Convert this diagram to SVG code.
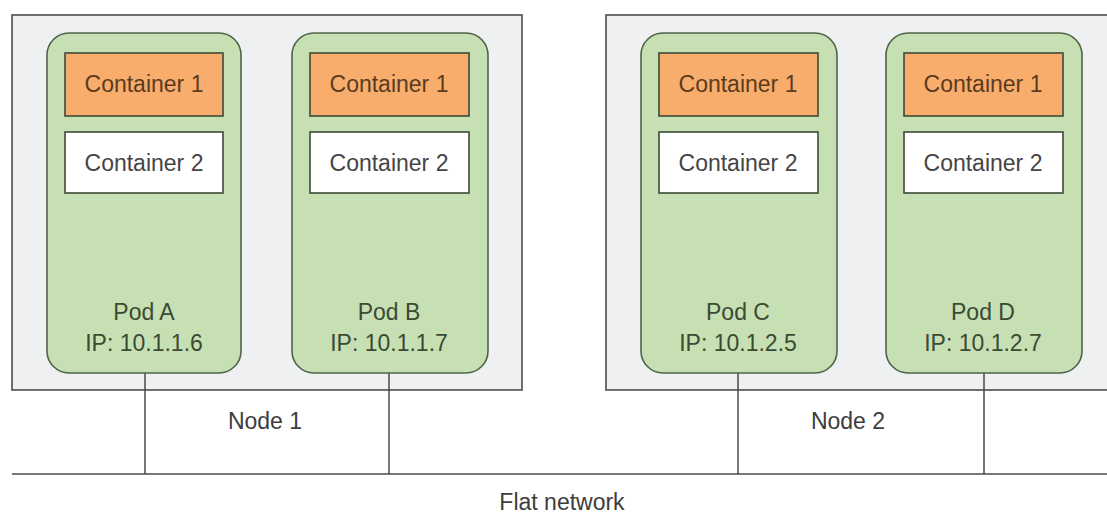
<svg xmlns="http://www.w3.org/2000/svg" width="1107" height="514" viewBox="0 0 1107 514">
  <style>
    .host { fill: #eef0f2; stroke: #4d4d4d; stroke-width: 1.6; }
    .pod { fill: #c6e0b4; stroke: #4f6349; stroke-width: 1.6; }
    .c1 { fill: #f9ad6d; stroke: #3d4a36; stroke-width: 1.6; }
    .c2 { fill: #ffffff; stroke: #3d4a36; stroke-width: 1.6; }
    .wire { stroke: #4a4a4a; stroke-width: 1.5; fill: none; }
    text { font-size: 23px; text-anchor: middle; }
    .t1 { fill: #5a3b20; }
    .t2 { fill: #454545; }
    .tp { fill: #3b4a33; }
    .tn { fill: #3d3d3d; }
  </style>
  <rect width="1107" height="514" fill="#ffffff"/>

  <g font-family="'Liberation Sans', Arial, Helvetica, sans-serif">
  <g id="node1">
    <rect class="host" x="12" y="15" width="510" height="375"/>
    <text class="tn" x="265" y="429">Node 1</text>
  </g>
  <g id="node2">
    <rect class="host" x="606" y="15" width="520" height="375"/>
    <text class="tn" x="848" y="429">Node 2</text>
  </g>

  <g id="connectors">
    <line class="wire" x1="12" y1="474" x2="1107" y2="474"/>
    <line class="wire" x1="145" y1="373" x2="145" y2="474"/>
    <line class="wire" x1="389" y1="373" x2="389" y2="474"/>
    <line class="wire" x1="738" y1="373" x2="738" y2="474"/>
    <line class="wire" x1="984" y1="373" x2="984" y2="474"/>
  </g>

  <g id="podA">
    <rect class="pod" x="47" y="33" width="194" height="340" rx="22"/>
    <rect class="c1" x="65" y="53" width="158" height="63"/>
    <text class="t1" x="144" y="92">Container 1</text>
    <rect class="c2" x="65" y="132" width="158" height="61"/>
    <text class="t2" x="144" y="171">Container 2</text>
    <text class="tp" x="144" y="320">Pod A</text>
    <text class="tp" x="144" y="351">IP: 10.1.1.6</text>
  </g>
  <g id="podB">
    <rect class="pod" x="292" y="33" width="196" height="340" rx="22"/>
    <rect class="c1" x="310" y="53" width="159" height="63"/>
    <text class="t1" x="389" y="92">Container 1</text>
    <rect class="c2" x="310" y="132" width="159" height="61"/>
    <text class="t2" x="389" y="171">Container 2</text>
    <text class="tp" x="389" y="320">Pod B</text>
    <text class="tp" x="389" y="351">IP: 10.1.1.7</text>
  </g>
  <g id="podC">
    <rect class="pod" x="641" y="33" width="196" height="340" rx="22"/>
    <rect class="c1" x="659" y="53" width="159" height="63"/>
    <text class="t1" x="738" y="92">Container 1</text>
    <rect class="c2" x="659" y="132" width="159" height="61"/>
    <text class="t2" x="738" y="171">Container 2</text>
    <text class="tp" x="738" y="320">Pod C</text>
    <text class="tp" x="738" y="351">IP: 10.1.2.5</text>
  </g>
  <g id="podD">
    <rect class="pod" x="886" y="33" width="196" height="340" rx="22"/>
    <rect class="c1" x="904" y="53" width="159" height="63"/>
    <text class="t1" x="983" y="92">Container 1</text>
    <rect class="c2" x="904" y="132" width="159" height="61"/>
    <text class="t2" x="983" y="171">Container 2</text>
    <text class="tp" x="983" y="320">Pod D</text>
    <text class="tp" x="983" y="351">IP: 10.1.2.7</text>
  </g>

  <g id="network">
    <text class="tn" x="562" y="510">Flat network</text>
  </g>
  </g>
</svg>
